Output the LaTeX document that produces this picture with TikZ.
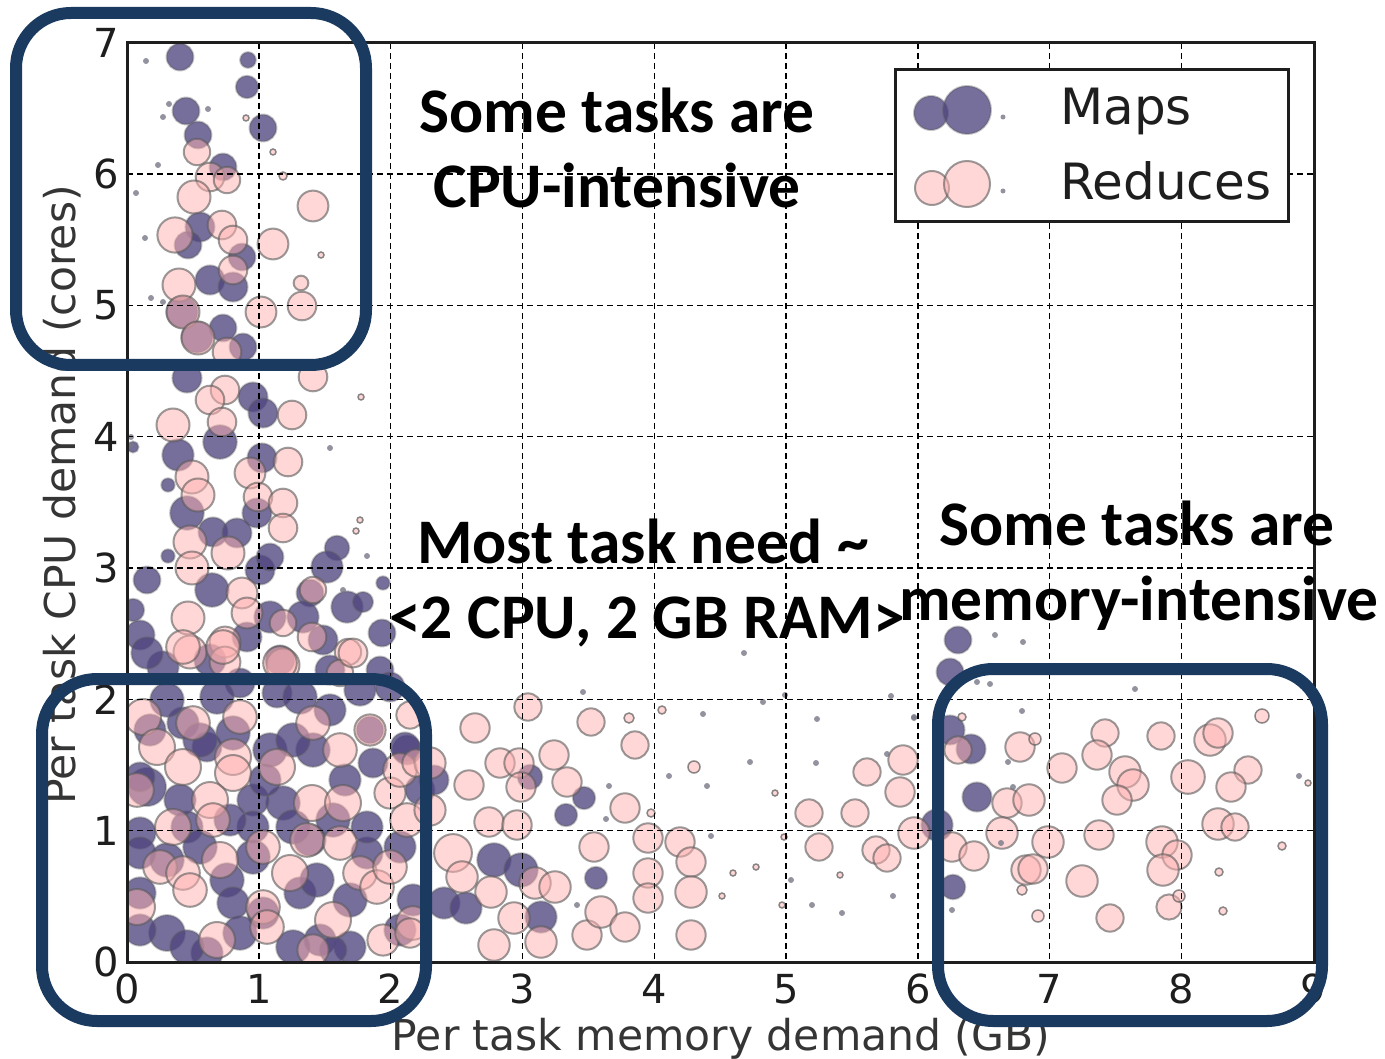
\documentclass[tikz,border=0pt]{standalone}
\usepackage{fontspec}
\setmainfont{DejaVu Sans}
\newfontfamily\calib{Carlito}
\definecolor{navy}{RGB}{26,58,96}
\definecolor{mapcol}{RGB}{80,70,128}
\definecolor{redcol}{RGB}{255,177,177}
\definecolor{edgecol}{RGB}{90,90,90}
\definecolor{axcol}{RGB}{30,30,30}
\definecolor{dotcol}{RGB}{120,120,135}
\tikzset{
  mapc/.style={fill=mapcol, fill opacity=0.78, draw=edgecol, draw opacity=0.35, line width=2pt},
  redc/.style={fill=redcol, fill opacity=0.5, draw=edgecol, draw opacity=0.6, line width=2pt},
  dotc/.style={fill=dotcol, fill opacity=0.8},
  odot/.style={fill=redcol, fill opacity=0.5, draw=edgecol, draw opacity=0.7, line width=1.5pt},
  gridl/.style={black, line width=1.4pt, dash pattern=on 6pt off 4pt},
  ticklab/.style={text=axcol, font=\fontsize{40}{44}\selectfont, inner sep=0pt},
  axlab/.style={text=axcol!90!white, font=\fontsize{42.5}{46}\selectfont, inner sep=0pt},
  bigtxt/.style={font=\calib\bfseries\fontsize{63.5}{70}\selectfont, inner sep=0pt, anchor=base},
  legtxt/.style={text=axcol, font=\fontsize{50}{53}\selectfont, inner sep=0pt, anchor=base west},
  hbox/.style={draw=navy, line width=12pt, rounded corners=55pt}
}
\begin{document}
\begin{tikzpicture}[x=1pt,y=-1pt]
\useasboundingbox (0,0) rectangle (1385,1059);
\fill[white] (0,0) rectangle (1385,1059);
% scatter
\begin{scope}
\clip (127,43) rectangle (1314,962);
\foreach \px/\py/\pr in {
180/57/12, 248/60/7, 247/87/10, 186/111/12, 263/128/12, 198/135/12, 223/167/12,
200/227/13, 188/245/12, 242/257/12, 210/280/13, 233/287/13, 223/328/12, 243/347/12, 197/337/14, 182/312/14,
187/378/13, 253/397/13, 263/413/13, 220/442/15, 178/455/14, 133/447/5, 168/485/6, 262/458/13, 187/513/15, 257/513/13,
213/532/13, 237/533/13, 168/556/6, 337/548/11, 327/567/14, 260/570/13, 270/557/12, 147/580/12, 212/590/15, 133/610/10,
310/593/12, 347/607/14, 363/602/9, 383/583/6, 140/635/13, 270/617/14, 303/617/14, 323/640/13, 382/633/12, 247/637/13,
163/667/14, 380/670/12,
147/787/17, 140/777/13, 183/723/14, 207/747/13, 233/733/15, 270/750/15, 283/803/15, 253/800/14, 313/750/15, 330/710/14,
277/693/13, 240/683/13, 373/763/13, 370/730/12, 407/750/13, 140/833/14, 167/860/15, 227/880/15, 233/903/14, 140/893/14,
167/933/16, 207/953/14, 263/913/14, 300/893/14, 320/940/14, 350/947/14, 310/840/14, 367/853/14, 400/930/14, 187/827/14,
253/827/14, 390/687/13, 147/653/14, 333/950/12,
200/740/15, 293/740/15, 333/820/15, 293/827/15, 200/847/15, 367/827/14, 317/880/15, 350/900/15, 187/947/15, 293/947/15,
140/853/14, 400/847/14, 413/900/14, 240/933/15, 167/700/15, 217/697/15, 300/697/15, 360/690/14, 253/857/15, 150/730/14,
420/790/13, 265/780/14, 180/800/14, 345/780/14, 230/820/14, 140/930/14, 280/660/13, 210/660/14, 330/670/13,
584/798/10, 566/815/10, 596/878/10, 494/860/15, 521/870/15, 444/903/14, 466/908/14, 541/917/14, 405/747/13, 434/780/13, 530/777/11,
958/640/12, 950/672/12, 950/730/13, 971/749/13, 977/797/13, 937/825/14, 953/887/11}
  \filldraw[mapc] (\px,\py) circle[radius=1.12*\pr];
% reduces, dense left part
\foreach \px/\py/\pr in {
197/152/12, 210/177/13, 227/180/12, 194/197/15, 313/206/14, 175/235/16, 222/225/13, 233/240/13, 233/270/13, 273/244/14,
179/285/15, 183/312/15, 302/306/13, 261/312/14, 198/338/15, 227/352/13,
313/377/13, 225/390/13, 210/400/13, 222/422/13, 173/425/15, 292/415/13, 192/477/15, 198/495/15, 250/473/14, 288/462/13,
258/497/13, 283/503/13, 283/528/13, 190/542/15, 228/553/15, 192/568/15, 242/593/14, 247/613/14, 188/618/15, 283/623/12,
313/590/12, 312/637/13, 190/652/15, 225/642/14, 225/662/14, 283/665/15, 348/652/12, 340/673/12}
  \filldraw[redc] (\px,\py) circle[radius=1.1*\pr];
\foreach \px/\py/\pr in {
143/717/15, 193/723/14, 240/717/14, 313/723/14, 370/730/13, 340/750/14, 157/747/15, 183/767/15, 233/757/15, 233/773/15,
277/767/15, 137/790/14, 210/800/15, 213/820/14, 312/803/15, 343/803/15, 390/793/13, 400/770/14, 430/763/13, 407/820/14,
430/810/13, 173/827/15, 263/847/14, 307/840/14, 340/843/14, 160/867/14, 183/873/14, 190/890/14, 220/860/15, 263/907/14,
267/927/14, 290/873/15, 360/873/14, 377/887/14, 390/867/14, 137/907/15, 217/940/15, 333/920/15, 413/923/14, 383/940/13,
313/950/13, 353/653/12, 280/663/14, 223/647/14, 183/647/14}
  \filldraw[redc] (\px,\py) circle[radius=1.2*\pr];
% reduces, rest
\foreach \px/\py/\pr in {
301/283/7,
410/715/13, 475/728/14, 528/707/13, 591/722/13, 635/745/13, 500/763/14, 519/763/14, 554/755/14, 567/782/14, 521/787/14,
469/785/14, 489/822/14, 517/825/14, 625/808/14, 594/847/14, 648/838/14, 680/842/14, 691/862/14, 691/892/15, 648/873/14,
648/898/14, 691/935/14, 453/853/18, 462/877/15, 491/892/15, 535/883/15, 555/887/15, 514/918/15, 494/945/15, 541/942/15,
587/935/14, 601/912/15, 625/927/14, 410/933/14, 416/763/13, 809/813/13, 855/813/13, 819/847/13, 867/772/13, 903/760/14,
900/792/14, 914/833/15, 876/850/13, 887/858/13,
952/847/14, 974/856/14, 958/750/13, 1020/747/14, 1007/803/14, 1029/800/15, 1002/833/15, 1048/842/15, 1026/870/14,
1033/869/14, 1062/768/14, 1105/733/13, 1097/755/14, 1125/772/15, 1133/785/15, 1117/800/14, 1099/835/14, 1082/881/15,
1110/918/13, 1161/736/13, 1188/777/16, 1210/740/15, 1218/733/14, 1248/770/13, 1231/787/14, 1218/824/15, 1235/827/13,
1162/842/15, 1177/855/14, 1163/870/15, 1169/907/12}
  \filldraw[redc] (\px,\py) circle[radius=1.05*\pr];
\foreach \px/\py/\pr in {
629/718/5, 694/767/6, 651/813/4, 662/710/4, 1035/739/6, 1022/890/5, 1038/916/6, 1179/896/6, 1262/716/7,
1219/872/4, 1223/911/4, 1282/846/4, 1308/783/3, 962/717/4, 246/118/3, 273/152/3, 283/176/4, 321/255/3,
756/867/3, 733/873/3, 722/896/3, 775/793/3, 784/837/3, 840/875/3, 782/905/3, 361/397/3, 360/520/3, 356/531/3}
  \filldraw[odot] (\px,\py) circle[radius=\pr];
\foreach \px/\py in {
146/61, 169/104, 163/117, 208/109, 158/165, 136/193, 145/238, 151/298, 163/302, 330/448, 367/556, 343/590,
583/692, 609/786, 606/819, 577/905, 669/776, 703/714, 707/786, 711/836, 750/762, 763/702, 785/695, 817/719,
816/763, 791/880, 812/905, 842/913, 893/896, 914/717, 887/754, 891/696, 744/653, 1008/762, 1022/711, 1013/787,
1001/843, 990/684, 977/682, 1135/689, 1299/776, 1023/642, 914/718, 995/635, 952/910, 131/437, 131/445}
  \fill[dotc] (\px,\py) circle[radius=3];
% grid
\foreach \gx in {258.8,390.6,522.4,654.2,786,917.8,1049.6,1181.4}
  \draw[gridl] (\gx,43) -- (\gx,962);
\foreach \gy in {830.45,699.2,567.95,436.7,305.45,174.2}
  \draw[gridl] (127,\gy) -- (1314,\gy);
\end{scope}
% axes frame
\draw[axcol, line width=3pt] (127,43) rectangle (1314,962);
% legend
\filldraw[fill=white, draw=axcol, line width=3pt] (895,70) rectangle (1288,222);
\filldraw[mapc] (931,113) circle[radius=17];
\filldraw[mapc] (967,110) circle[radius=24];
\fill[dotc] (1003,117) circle[radius=2.5];
\filldraw[redc] (932,188) circle[radius=17];
\filldraw[redc] (967,184) circle[radius=23];
\fill[dotc] (1003,191) circle[radius=2.5];
\node[legtxt] (lmaps) at (1060,125) {Maps};
\node[legtxt] (lred) at (1060,200) {Reduces};
% tick labels
\foreach \v/\gx in {0/127,1/258.8,2/390.6,3/522.4,4/654.2,5/786,6/917.8,7/1049.6,8/1181.4,9/1313}
  \node[ticklab, anchor=base] (xt\v) at (\gx,1003) {\v};
\foreach \v/\gy in {0/961.7,1/830.45,2/699.2,3/567.95,4/436.7,5/305.45,6/174.2,7/43}
  \node[ticklab, anchor=east] (yt\v) at (119,\gy) {\v};
\node[axlab, anchor=base] (xlab) at (721,1050) {Per task memory demand (GB)};
\node[axlab, rotate=90, anchor=base] (ylab) at (75,495) {Per task CPU demand (cores)};
% annotations
\node[bigtxt] (cpu1) at (617,133) {Some tasks are};
\node[bigtxt] (cpu2) at (617,208) {CPU-intensive};
\node[bigtxt] (most1) at (643,563) {Most task need \textasciitilde};
\node[bigtxt] (most2) at (647,638) {<2 CPU, 2 GB RAM>};
\node[bigtxt] (mem1) at (1137,545) {Some tasks are};
\node[bigtxt] (mem2) at (1139,620) {memory-intensive};
% highlight boxes
\draw[hbox] (16,13) rectangle (366,365);
\draw[hbox] (42,679) rectangle (426,1021);
\draw[hbox] (938,669) rectangle (1322,1021);
\end{tikzpicture}
\end{document}
